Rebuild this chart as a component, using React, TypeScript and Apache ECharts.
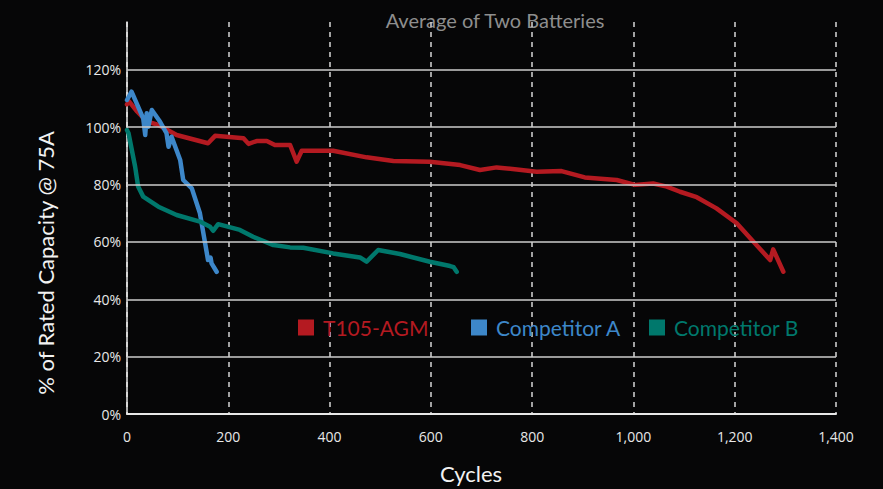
import React, { useEffect, useRef } from 'react';
import * as echarts from 'echarts';

const seriesNames = ['T105-AGM', 'Competitor A', 'Competitor B'];
const seriesColors = ['#b41a21', '#3d87c9', '#00786c'];

const redCycles = [0, 4, 20, 39, 62, 98, 160, 174, 230, 240, 256, 276, 292, 322, 335, 345, 407, 473, 526, 598, 658, 697, 730, 770, 809, 858, 904, 967, 1003, 1039, 1066, 1092, 1125, 1164, 1204, 1237, 1270, 1276, 1296];
const redValues = [108, 109, 105.5, 102, 100.8, 97.3, 94.4, 97, 96.2, 94.2, 95.2, 95.2, 93.8, 93.8, 88, 91.8, 91.8, 89.5, 88.2, 88, 86.8, 85.1, 86, 85.3, 84.5, 84.7, 82.5, 81.6, 79.9, 80.4, 79.3, 77.5, 75.6, 71.7, 66.5, 60.1, 53.7, 57.4, 49.6];

const blueCycles = [0, 9, 32, 36, 39, 42, 49, 65, 78, 82, 88, 105, 111, 128, 144, 160, 165, 167, 177];
const blueValues = [109.5, 112.4, 103.1, 97.3, 104.9, 100.2, 106, 102, 97.9, 93.2, 96.7, 88.6, 81.6, 78.7, 70, 53.7, 54.5, 52.5, 49.6];

const tealCycles = [0, 3, 16, 22, 32, 62, 98, 144, 164, 170, 180, 223, 249, 289, 322, 348, 407, 460, 473, 496, 539, 598, 638, 645, 651];
const tealValues = [99, 97.9, 86.3, 79.3, 75.8, 72.3, 69.4, 67.1, 65.3, 63.9, 66.2, 64.2, 61.8, 58.9, 58.1, 58, 56, 54.6, 53.1, 57.2, 55.8, 53.1, 51.6, 51.2, 49.6];

const yGridValues = [20, 40, 60, 80, 100, 120];
const xMin = 0, xMax = 1400, xStep = 200;
const yMin = 0, yMax = 136.7, yStep = 20;

const FONT = 'Open Sans';
const HFONT = 'Lato';

function pairs(xs: number[], ys: number[]) {
  return xs.map((x, i) => [x, ys[i]]);
}

export default function App() {
  const ref = useRef<HTMLDivElement>(null);
  useEffect(() => {
    if (!ref.current) return;
    const chart = echarts.init(ref.current, null, { renderer: 'svg' });
    const datasets = [pairs(redCycles, redValues), pairs(blueCycles, blueValues), pairs(tealCycles, tealValues)];
    const legendLefts = [293, 466, 644];
    chart.setOption({
      animation: false,
      backgroundColor: '#060607',
      textStyle: { fontFamily: FONT },
      graphic: [
        { type: 'text', x: 495, y: 20, style: { text: 'Average of Two Batteries', fill: '#8e8e8e', fontSize: 20, fontFamily: HFONT, align: 'center', verticalAlign: 'middle' } },
        { type: 'text', x: 471, y: 473, style: { text: 'Cycles', fill: '#f2f2f2', fontSize: 22, fontFamily: HFONT, align: 'center', verticalAlign: 'middle' } },
        { type: 'text', x: 45, y: 263, rotation: Math.PI / 2, style: { text: '% of Rated Capacity @ 75A', fill: '#f2f2f2', fontSize: 22, fontFamily: HFONT, align: 'center', verticalAlign: 'middle' } },
      ],
      legend: seriesNames.map((n, i) => ({
        data: [{ name: n, textStyle: { color: seriesColors[i] } }],
        left: legendLefts[i],
        top: 312,
        icon: 'rect',
        itemWidth: 16,
        itemHeight: 16,
        textStyle: { fontSize: 21, fontFamily: HFONT, padding: [0, 0, 0, 4] },
      })),
      grid: { left: 127, right: 47, top: 22, bottom: 75 },
      xAxis: {
        type: 'value', min: xMin, max: xMax, interval: xStep,
        axisLine: { show: true, lineStyle: { color: '#e8e8e8', width: 2 } },
        axisTick: { show: false },
        axisLabel: { color: '#e8e8e8', fontSize: 14, margin: 15, fontFamily: FONT, formatter: (v: number) => v.toLocaleString('en-US') },
        splitLine: { show: true, lineStyle: { type: [5, 5], color: '#d6d6d6', width: 1.5 } },
      },
      yAxis: {
        type: 'value', min: yMin, max: yMax, interval: yStep,
        axisLine: { show: true, lineStyle: { color: '#e8e8e8', width: 1.5 } },
        axisTick: { show: false },
        axisLabel: { color: '#e8e8e8', fontSize: 14, margin: 6, fontFamily: FONT, formatter: (v: number) => (Math.abs(v % yStep) < 1e-6 && v <= 120 ? v + '%' : '') },
        splitLine: { show: false },
      },
      series: [
        {
          type: 'line', name: '_grid', data: [], silent: true, z: 1,
          markLine: {
            silent: true, symbol: ['none', 'none'], label: { show: false },
            lineStyle: { type: 'solid', color: '#cdcdcd', width: 1.5 },
            data: yGridValues.map((v) => ({ yAxis: v })),
          },
        },
        ...seriesNames.map((n, i) => ({
          type: 'line', name: n, data: datasets[i], showSymbol: false, symbol: 'none', z: 3,
          itemStyle: { color: seriesColors[i] },
          lineStyle: { color: seriesColors[i], width: 4.5, cap: 'round', join: 'round' },
        })),
      ],
    });
    return () => chart.dispose();
  }, []);
  return <div ref={ref} style={{ position: 'fixed', left: 0, top: 0, width: 883, height: 489 }} />;
}
